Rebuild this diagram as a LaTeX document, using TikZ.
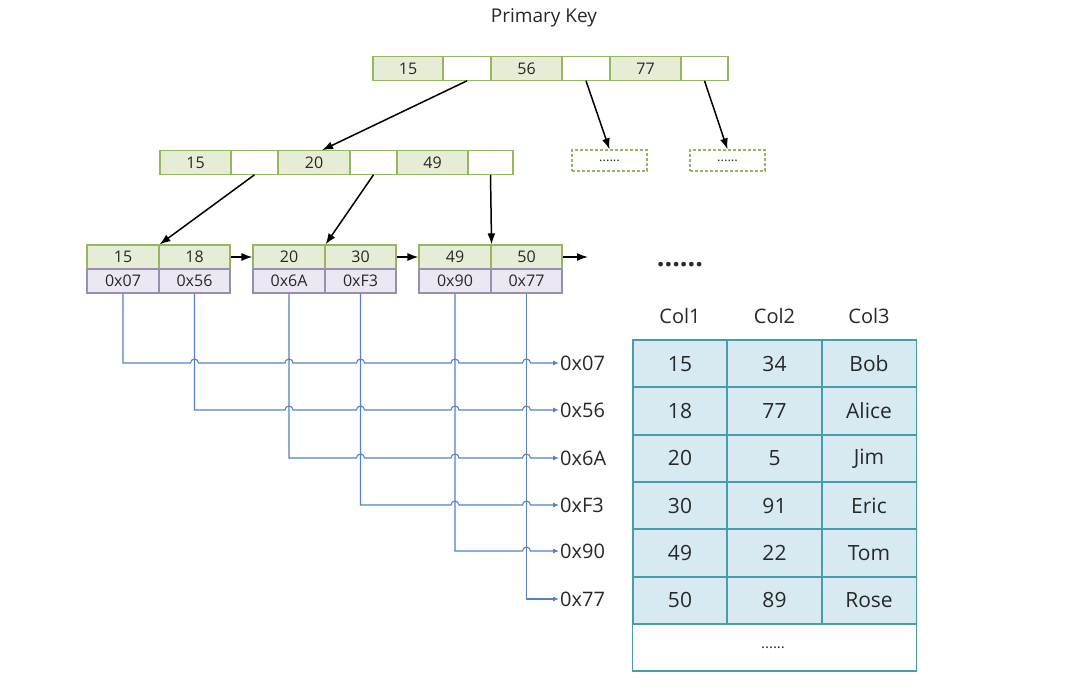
\documentclass[tikz,border=0pt]{standalone}
\usepackage{fontspec}
\setmainfont{Open Sans}
\usetikzlibrary{arrows.meta,calc}
\definecolor{gfill}{RGB}{229,237,215}
\definecolor{gline}{RGB}{150,182,95}
\definecolor{pfill}{RGB}{235,232,244}
\definecolor{pline}{RGB}{150,144,176}
\definecolor{blink}{RGB}{84,128,205}
\definecolor{tfill}{RGB}{215,234,242}
\definecolor{tline}{RGB}{70,158,172}
\definecolor{txt}{RGB}{40,40,40}
\newcommand\fs[1]{\fontsize{#1}{#1}\selectfont}
\newcommand\hop[2]{-- ({#1-4},#2) arc[start angle=180,end angle=360,radius=4pt]}
\begin{document}
\begin{tikzpicture}[x=1pt,y=1pt,yscale=-1,
  gcell/.style={draw=gline, fill=gfill, line width=1.1pt, minimum height=23.5pt, inner sep=0pt, font=\fs{16}, text=txt},
  wcell/.style={gcell, fill=white},
  pcell/.style={draw=pline, fill=pfill, line width=1.1pt, minimum height=24pt, inner sep=0pt, font=\fs{16}, text=txt},
  dbox/.style={draw=gline, dashed, dash pattern=on 3pt off 2pt, line width=1.3pt, fill=white, minimum width=75pt, minimum height=21pt, inner sep=0pt, font=\fs{13}, text=txt},
  tarrow/.style={-{Latex[length=11pt,width=8pt]}, line width=1.5pt, black},
  link/.style={blink, line width=1.1pt, -{Latex[length=6pt,width=5pt]}},
  addr/.style={anchor=west, inner sep=1pt, font=\fs{20}, text=txt},
  tcell/.style={fill=tfill, minimum width=94.4pt, minimum height=47.3pt, inner sep=0pt, font=\fs{21}, text=txt},
  tborder/.style={draw=tline, line width=1.8pt},
  thead/.style={font=\fs{20}, text=txt, inner sep=0pt}
]
\fill[white] (0,0) rectangle (1080,695);
\useasboundingbox (0,0) rectangle (1080,695);

\node[font=\fs{19}, text=txt] (title) at (544,18) {Primary Key};

% top node
\node[gcell, minimum width=70pt] (t1) at (408,68.5) {15};
\node[wcell, minimum width=48pt] (t2) at (467,68.5) {};
\node[gcell, minimum width=71pt] (t3) at (526.5,68.5) {56};
\node[wcell, minimum width=48pt] (t4) at (586,68.5) {};
\node[gcell, minimum width=71pt] (t5) at (645.5,68.5) {77};
\node[wcell, minimum width=47pt] (t6) at (704.5,68.5) {};

% second level
\node[gcell, minimum width=71pt] (m1) at (195.5,162.5) {15};
\node[wcell, minimum width=47pt] (m2) at (254.5,162.5) {};
\node[gcell, minimum width=72pt] (m3) at (314,162.5) {20};
\node[wcell, minimum width=47pt] (m4) at (373.5,162.5) {};
\node[gcell, minimum width=71pt] (m5) at (432.5,162.5) {49};
\node[wcell, minimum width=45pt] (m6) at (490.5,162.5) {};

\node[dbox] (d1) at (609.5,160.5) {......};
\node[dbox] (d2) at (727.5,160.5) {......};

% leaves
\node[gcell, minimum width=72pt, minimum height=24pt] (l1) at (123,257) {15};
\node[gcell, minimum width=71pt, minimum height=24pt] (l2) at (194.5,257) {18};
\node[gcell, minimum width=72pt, minimum height=24pt] (l3) at (289,257) {20};
\node[gcell, minimum width=71pt, minimum height=24pt] (l4) at (360.5,257) {30};
\node[gcell, minimum width=72pt, minimum height=24pt] (l5) at (455,257) {49};
\node[gcell, minimum width=71pt, minimum height=24pt] (l6) at (526.5,257) {50};
\node[pcell, minimum width=72pt] (p1) at (123,281) {0x07};
\node[pcell, minimum width=71pt] (p2) at (194.5,281) {0x56};
\node[pcell, minimum width=72pt] (p3) at (289,281) {0x6A};
\node[pcell, minimum width=71pt] (p4) at (360.5,281) {0xF3};
\node[pcell, minimum width=72pt] (p5) at (455,281) {0x90};
\node[pcell, minimum width=71pt] (p6) at (526.5,281) {0x77};
\coordinate (lend) at (588,257);
\node[font=\bfseries\fs{27}, text=txt, inner sep=0pt] (more) at (680,265) {......};

% tree arrows
\draw[tarrow] (t2.south) -- ($(m3.north)+(8,0)$);
\draw[tarrow] (t4.south) -- (d1.north);
\draw[tarrow] (t6.south) -- (d2.north);
\draw[tarrow] (m2.south) -- (l1.north east);
\draw[tarrow] (m4.south) -- (l3.north east);
\draw[tarrow] (m6.south) -- (l5.north east);
\draw[tarrow] (l2.east) -- (l3.west);
\draw[tarrow] (l4.east) -- (l5.west);
\draw[tarrow] (l6.east) -- (lend);

% address labels
\node[addr] (a1) at (559,363) {0x07};
\node[addr] (a2) at (559,410) {0x56};
\node[addr] (a3) at (559,458) {0x6A};
\node[addr] (a4) at (559,505) {0xF3};
\node[addr] (a5) at (559,551) {0x90};
\node[addr] (a6) at (559,599) {0x77};

% pointer lines
\draw[link] (p1.south) -- (123,363) \hop{194.5}{363} \hop{289}{363} \hop{360.5}{363} \hop{455}{363} \hop{526.5}{363} -- (a1.west);
\draw[link] (p2.south) -- (194.5,410) \hop{289}{410} \hop{360.5}{410} \hop{455}{410} \hop{526.5}{410} -- (a2.west);
\draw[link] (p3.south) -- (289,458) \hop{360.5}{458} \hop{455}{458} \hop{526.5}{458} -- (a3.west);
\draw[link] (p4.south) -- (360.5,505) \hop{455}{505} \hop{526.5}{505} -- (a4.west);
\draw[link] (p5.south) -- (455,551) \hop{526.5}{551} -- (a5.west);
\draw[link] (p6.south) -- (526.5,599) -- (a6.west);

% table
\node[thead] (h1) at (680,316) {Col1};
\node[thead] (h2) at (774.5,316) {Col2};
\node[thead] (h3) at (869,316) {Col3};
\foreach \r/\a/\b/\c in {1/15/34/Bob,2/18/77/Alice,3/20/5/Jim,4/30/91/Eric,5/49/22/Tom,6/50/89/Rose}{
  \node[tcell] (c\r a) at (680,{340+(\r-0.5)*47.33}) {\a};
  \node[tcell] (c\r b) at (774.5,{340+(\r-0.5)*47.33}) {\b};
  \node[tcell] (c\r c) at (869,{340+(\r-0.5)*47.33}) {\c};
}
\node[tcell, fill=white, minimum width=283.5pt] (cb) at (774.5,647.5) {};
\foreach \r in {1,...,6}{
  \foreach \k in {a,b,c}{
    \draw[tborder] (c\r\k.north west) rectangle (c\r\k.south east);
  }
}
\draw[tborder] (cb.north west) rectangle (cb.south east);
\node[font=\fs{15}, text=txt, inner sep=0pt] (cbdots) at (773,648) {......};
\end{tikzpicture}
\end{document}
